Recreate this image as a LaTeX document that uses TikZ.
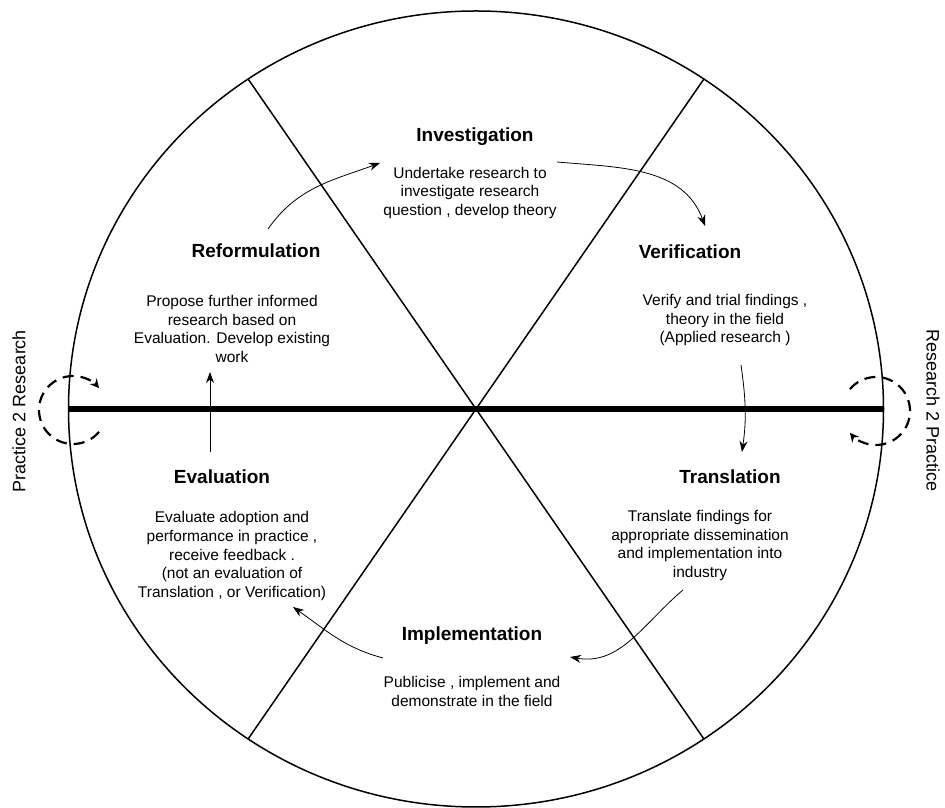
\documentclass[tikz,border=0pt]{standalone}
\usepackage{fontspec}
\setmainfont{Liberation Sans}
\usetikzlibrary{arrows.meta,calc}
\tikzstyle{phase} = [font=\fontsize{19}{22}\selectfont\bfseries, inner sep=0pt]
\tikzstyle{blurb} = [font=\fontsize{15.5}{18.6}\selectfont, align=center, inner sep=0pt]
\tikzstyle{sidelabel} = [font=\fontsize{18}{20}\selectfont, inner sep=0pt]
\tikzstyle{rim} = [line width=1.5pt]
\tikzstyle{divide} = [line width=6.5pt]
\tikzstyle{flow} = [line width=0.8pt, -{Stealth[length=11pt,width=8pt]}]
\tikzstyle{turn} = [line width=2.2pt, dash pattern=on 11pt off 7pt, -{Stealth[length=9pt,width=9pt]}]

\begin{document}
\begin{tikzpicture}[x=1pt,y=1pt]
    \useasboundingbox (0,0) rectangle (945,808);
    \coordinate (c) at (476,399);
    \draw[rim] (c) ellipse [x radius=407.5pt, y radius=398pt];
    \draw[rim] ($(c)+(56:407.5pt and 398pt)$) -- ($(c)+(236:407.5pt and 398pt)$);
    \draw[rim] ($(c)+(124:407.5pt and 398pt)$) -- ($(c)+(304:407.5pt and 398pt)$);
    \draw[divide] ($(c)+(180:407.5pt and 398pt)$) -- ($(c)+(0:407.5pt and 398pt)$);

    \coordinate (lc) at (73,398);
    \coordinate (rc) at (876,397);
    \draw[turn] ([shift={(-40:34pt)}]lc) arc[start angle=-40, end angle=-320, radius=34pt];
    \draw[turn] ([shift={(140:34pt)}]rc) arc[start angle=140, end angle=-140, radius=34pt];
    \node[sidelabel, rotate=90] (p2r) at (19,397) {Practice 2 Research};
    \node[sidelabel, rotate=-90] (r2p) at (933,397) {Research 2 Practice};

    \node[phase] (inv) at (475,671) {Investigation};
    \node[blurb] (invtxt) at (470,615) {Undertake research to\\investigate research\\question , develop theory};
    \node[phase] (ver) at (690,556) {Verification};
    \node[blurb] (vertxt) at (725,488) {Verify and trial findings ,\\theory in the field\\(Applied research )};
    \node[phase] (ref) at (256,557) {Reformulation};
    \node[blurb] (reftxt) at (232,479) {Propose further informed\\research based on\\Evaluation. Develop existing\\work};
    \node[phase] (tra) at (730,331) {Translation};
    \node[blurb] (tratxt) at (700,262.5) {Translate findings for\\appropriate dissemination\\and implementation into\\industry};
    \node[phase] (eva) at (222,331) {Evaluation};
    \node[blurb] (evatxt) at (232,252) {Evaluate adoption and\\performance in practice ,\\receive feedback .\\(not an evaluation of\\Translation , or Verification)};
    \node[phase] (imp) at (472,172) {Implementation};
    \node[blurb] (imptxt) at (472,116.5) {Publicise , implement and\\demonstrate in the field};

    \coordinate (r2i a) at (268,579);
    \coordinate (r2i b) at (380,645);
    \coordinate (i2v a) at (557,646);
    \coordinate (i2v b) at (705,582);
    \coordinate (v2t a) at (741,443);
    \coordinate (v2t b) at (742,356);
    \coordinate (t2m a) at (683,218);
    \coordinate (t2m b) at (570,151);
    \coordinate (m2e a) at (383,150);
    \coordinate (m2e b) at (293,201);
    \coordinate (e2r a) at (210,356);
    \coordinate (e2r b) at (210,436);
    \draw[flow] (r2i a) to[out=55, in=200] (r2i b);
    \draw[flow] (i2v a) to[out=-5, in=110] (i2v b);
    \draw[flow] (v2t a) to[out=-82, in=82] (v2t b);
    \draw[flow] (t2m a) to[out=220, in=-10] (t2m b);
    \draw[flow] (m2e a) to[out=165, in=-35] (m2e b);
    \draw[flow] (e2r a) -- (e2r b);
\end{tikzpicture}
\end{document}
